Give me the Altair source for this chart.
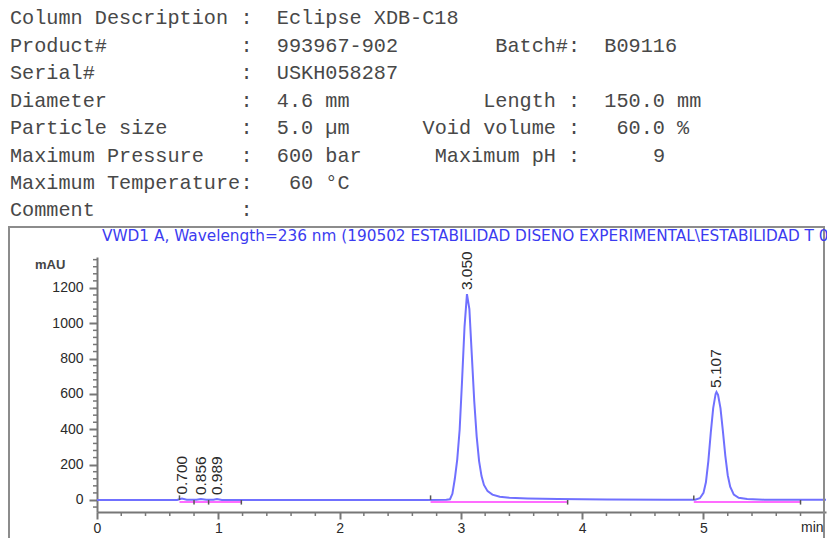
import altair as alt
import pandas as pd

# ---- column report header -------------------------------------------------
hdr_names = ["Column Description", "Product#", "Serial#", "Diameter",
             "Particle size", "Maximum Pressure", "Maximum Temperature", "Comment"]
hdr_values = ["Eclipse XDB-C18", "993967-902", "USKH058287", "4.6 mm",
              "5.0 \u00b5m", "600 bar", "60 \u00b0C", ""]
hdr_value_cols = [22, 22, 22, 22, 22, 22, 23, 22]

right_rows = [1, 3, 4, 5]
right_names = ["Batch#:", "Length :", "Void volume :", "Maximum pH :"]
right_values = ["B09116", "150.0 mm", "60.0 %", "9"]
right_value_cols = [49, 49, 50, 53]

# ---- chromatogram trace (time in min, signal in mAU) -----------------------
trace_t = [0.00, 0.50, 0.66, 0.70, 0.74, 0.82, 0.856, 0.90, 0.96, 0.989, 1.03,
           1.20, 2.00, 2.70, 2.88, 2.91, 2.93, 2.95, 2.97, 2.99, 3.01, 3.03,
           3.05, 3.07, 3.09, 3.11, 3.13, 3.15, 3.17, 3.19, 3.22, 3.26, 3.32,
           3.40, 3.55, 3.80, 4.20, 4.70, 4.93, 4.97, 5.00, 5.02, 5.04, 5.06,
           5.08, 5.10, 5.107, 5.12, 5.14, 5.16, 5.18, 5.20, 5.22, 5.25, 5.29,
           5.36, 5.50, 5.80, 6.01]
trace_v = [0, 0, 0, 8, 1, 1, 5, 1, 1, 5, 0,
           0, 0, 0, 1, 4, 35, 120, 230, 400, 680, 980,
           1165, 1080, 820, 560, 360, 220, 135, 85, 50, 30, 18,
           12, 8, 5, 3, 2, 1, 10, 40, 100, 220, 380,
           520, 600, 611, 595, 520, 390, 250, 140, 75, 30, 12,
           5, 2, 1, 1]

# peak apexes labelled with retention time
peak_rt = [0.700, 0.856, 0.989, 3.050, 5.107]
peak_h = [8, 5, 5, 1165, 611]

# integration baselines and their event marks
base_start = [0.68, 2.75, 4.92]
base_end = [1.19, 3.88, 5.80]
event_t = [0.68, 0.80, 0.92, 1.19, 2.75, 3.88, 4.92, 5.80]
event_dir = [1, -1, -1, -1, 1, -1, 1, -1]

x_major = [0, 1, 2, 3, 4, 5]
x_minor = [round(i * 0.2, 1) for i in range(1, 30) if i % 5 != 0]
y_major = [0, 200, 400, 600, 800, 1000, 1200]
y_minor = [v for v in range(-40, 1375, 40) if v % 200 != 0]

TITLE = "VWD1 A, Wavelength=236 nm (190502 ESTABILIDAD DISENO EXPERIMENTAL\\ESTABILIDAD T 0"

# ---- layout ----------------------------------------------------------------
W, H = 729, 255
PAD_L, PAD_T = 97, 257
CW = 12.13          # monospace advance
LX = 10 - PAD_L     # header left edge
ROW0, ROWH = 18.3 - PAD_T, 27.45

GRAY = "#777777"
TXT = "#2a2a2a"
BLUE = "#7070ff"

xs = alt.Scale(domain=[0, 6.01], nice=False, zero=False)
ys = alt.Scale(domain=[-68, 1375], nice=False, zero=False)

x_axis = alt.Axis(values=x_major, format="d", tickSize=7, tickWidth=2, tickColor=GRAY,
                  domainColor=GRAY, domainWidth=2, labelFontSize=14,
                  labelFont="Liberation Sans", labelColor=TXT, labelPadding=2,
                  grid=False, title=None, labelFlush=False)
y_axis = alt.Axis(values=y_major, format="d", tickSize=8, tickWidth=2, tickColor=GRAY,
                  domainColor=GRAY, domainWidth=2, labelFontSize=14,
                  labelFont="Liberation Sans", labelColor=TXT, labelPadding=6,
                  grid=False, title=None, labelFlush=False)

trace_df = pd.DataFrame({"t": trace_t, "v": trace_v})
peaks_df = pd.DataFrame({"rt": peak_rt, "h": peak_h,
                         "lab": [f"{r:.3f}" for r in peak_rt]})
base_df = pd.DataFrame({"s": base_start, "e": base_end, "b": [0] * len(base_start)})
event_df = pd.DataFrame({"t": event_t, "d": event_dir, "b": [0] * len(event_t)})
one = pd.DataFrame({"k": [0]})

baselines = alt.Chart(base_df).mark_rule(color="#ff6cff", strokeWidth=2, yOffset=2).encode(
    x=alt.X("s:Q", scale=xs, axis=x_axis), x2="e:Q",
    y=alt.Y("b:Q", scale=ys, axis=y_axis))

trace = alt.Chart(trace_df).mark_line(color=BLUE, strokeWidth=2, clip=True).encode(
    x=alt.X("t:Q", scale=xs), y=alt.Y("v:Q", scale=ys))

events = alt.Chart(event_df).transform_calculate(y2="datum.d * 26").mark_rule(
    color="#555555", strokeWidth=1.5).encode(
    x=alt.X("t:Q", scale=xs), y=alt.Y("b:Q", scale=ys), y2="y2:Q")

peak_labels = alt.Chart(peaks_df).mark_text(
    angle=270, align="left", baseline="middle", dx=4, fontSize=15.5,
    font="Liberation Sans", color=TXT).encode(
    x=alt.X("rt:Q", scale=xs), y=alt.Y("h:Q", scale=ys), text="lab:N")

xminor = alt.Chart(pd.DataFrame({"m": x_minor})).mark_rule(color=GRAY, strokeWidth=1.5).encode(
    x=alt.X("m:Q", scale=xs), y=alt.value(H), y2=alt.value(H + 4))
yminor = alt.Chart(pd.DataFrame({"m": y_minor})).mark_rule(color=GRAY, strokeWidth=1.5).encode(
    y=alt.Y("m:Q", scale=ys), x=alt.value(0), x2=alt.value(-4))

frame = alt.Chart(one).mark_rect(fill=None, stroke="#8c8c8c", strokeWidth=2).encode(
    x=alt.value(9 - PAD_L), x2=alt.value(824 - PAD_L),
    y=alt.value(227 - PAD_T), y2=alt.value(H + 60))

title = alt.Chart(one).mark_text(align="left", baseline="middle", fontSize=15.3,
                                 font="DejaVu Sans", color="#3b3bf0", text=TITLE).encode(
    x=alt.value(102 - PAD_L), y=alt.value(236 - PAD_T))

mau = alt.Chart(one).mark_text(align="left", baseline="middle", fontSize=13,
                               fontWeight="bold", font="Liberation Sans",
                               color="#444444", text="mAU").encode(
    x=alt.value(35 - PAD_L), y=alt.value(265 - PAD_T))

minlab = alt.Chart(one).mark_text(align="left", baseline="top", fontSize=14,
                                  font="Liberation Sans", color=TXT, text="min").encode(
    x=alt.value(801 - PAD_L), y=alt.value(H + 9))

# header text pieces
rows = []
for i, (n, v, c) in enumerate(zip(hdr_names, hdr_values, hdr_value_cols)):
    rows.append({"r": i, "x": LX, "txt": n, "al": "left"})
    rows.append({"r": i, "x": LX + 19 * CW, "txt": ":", "al": "left"})
    if v:
        rows.append({"r": i, "x": LX + c * CW, "txt": v, "al": "left"})
for r, n, v, c in zip(right_rows, right_names, right_values, right_value_cols):
    rows.append({"r": r, "x": LX + 47 * CW, "txt": n, "al": "right"})
    rows.append({"r": r, "x": LX + c * CW, "txt": v, "al": "left"})
hdr_df = pd.DataFrame(rows)
hdr_df["y"] = ROW0 + hdr_df["r"] * ROWH

hdr_base = alt.Chart(hdr_df)
hdr_left = hdr_base.transform_filter("datum.al == 'left'").mark_text(
    align="left", baseline="middle", fontSize=20.2, font="Liberation Mono",
    color="#484848").encode(
    x=alt.X("x:Q", scale=None), y=alt.Y("y:Q", scale=None), text="txt:N")
hdr_right = hdr_base.transform_filter("datum.al == 'right'").mark_text(
    align="right", baseline="middle", fontSize=20.2, font="Liberation Mono",
    color="#484848").encode(
    x=alt.X("x:Q", scale=None), y=alt.Y("y:Q", scale=None), text="txt:N")

chart = alt.layer(
    baselines, trace, events, peak_labels, xminor, yminor,
    frame, title, mau, minlab, hdr_left, hdr_right
).properties(
    width=W, height=H,
    padding={"left": PAD_L, "top": PAD_T, "right": 1, "bottom": 26},
    autosize=alt.AutoSizeParams(type="none"),
    background="white",
).configure_view(stroke=None)

chart.save("out.html", embed_options={"renderer": "svg", "actions": False})
